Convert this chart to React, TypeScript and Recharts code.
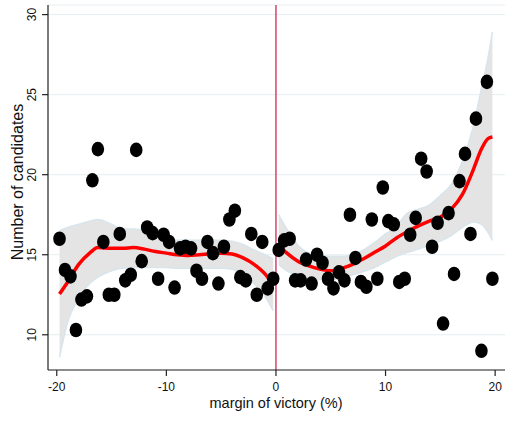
import React from 'react'
import { ComposedChart, Scatter, Line, Area, XAxis, YAxis, CartesianGrid, ReferenceLine } from 'recharts'

// binned counts, left and right of the cutoff
const leftBinX = [
  -19.75, -19.25, -18.75, -18.25, -17.75, -17.25, -16.75, -16.25, -15.75, -15.25,
  -14.75, -14.25, -13.75, -13.25, -12.75, -12.25, -11.75, -11.25, -10.75, -10.25,
  -9.75, -9.25, -8.75, -8.25, -7.75, -7.25, -6.75, -6.25, -5.75, -5.25,
  -4.75, -4.25, -3.75, -3.25, -2.75, -2.25, -1.75, -1.25, -0.75, -0.25,
]
const leftCount = [
  16.0, 14.05, 13.65, 10.3, 12.2, 12.4, 19.65, 21.6, 15.8, 12.5,
  12.5, 16.3, 13.4, 13.75, 21.55, 14.6, 16.7, 16.35, 13.5, 16.25,
  15.8, 12.95, 15.4, 15.5, 15.4, 14.0, 13.5, 15.8, 15.1, 13.2,
  15.5, 17.2, 17.75, 13.6, 13.4, 16.3, 12.5, 15.8, 12.9, 13.5,
]
const rightBinX = [
  0.25, 0.75, 1.25, 1.75, 2.25, 2.75, 3.25, 3.75, 4.25, 4.75,
  5.25, 5.75, 6.25, 6.75, 7.25, 7.75, 8.25, 8.75, 9.25, 9.75,
  10.25, 10.75, 11.25, 11.75, 12.25, 12.75, 13.25, 13.75, 14.25, 14.75,
  15.25, 15.75, 16.25, 16.75, 17.25, 17.75, 18.25, 18.75, 19.25, 19.75,
]
const rightCount = [
  15.3, 15.9, 16.0, 13.4, 13.4, 14.7, 13.2, 15.0, 14.5, 13.5,
  12.9, 13.9, 13.4, 17.5, 14.8, 13.3, 13.0, 17.2, 13.5, 19.2,
  17.1, 16.9, 13.3, 13.5, 16.25, 17.3, 21.0, 20.2, 15.5, 17.0,
  10.7, 17.6, 13.8, 19.6, 21.3, 16.3, 23.5, 9.0, 25.8, 13.5,
]

// local polynomial fit and 95% CI
const leftFitX = [-19.75, -19, -18, -17, -16.25, -15, -14, -13, -12, -11, -10, -9, -8, -7, -6, -5, -4, -3, -2, -1, -0.25]
const leftFit = [12.55, 13.3, 14.4, 15.1, 15.45, 15.4, 15.4, 15.45, 15.35, 15.2, 15.1, 15.0, 14.95, 15.0, 15.05, 15.1, 15.05, 14.8, 14.4, 13.8, 13.1]
const leftHi = [16.5, 16.7, 16.9, 17.1, 17.2, 16.9, 16.6, 16.6, 16.5, 16.2, 16.0, 15.9, 15.9, 15.9, 15.9, 15.9, 15.85, 15.65, 15.3, 15.0, 14.75]
const leftLo = [8.6, 10.8, 12.3, 13.2, 13.6, 14.0, 14.15, 14.2, 14.2, 14.2, 14.2, 14.15, 14.15, 14.15, 14.15, 14.15, 14.1, 13.75, 13.2, 12.4, 11.5]

const rightFitX = [0.25, 1, 2, 3, 4, 5, 6, 7, 8, 9, 10, 11, 12, 13, 14, 15, 16, 17, 18, 18.75, 19.35, 19.75]
const rightFit = [15.6, 15.1, 14.6, 14.3, 14.1, 14.0, 14.15, 14.4, 14.75, 15.15, 15.55, 16.05, 16.45, 16.8, 17.1, 17.35, 17.85, 18.75, 20.3, 21.6, 22.25, 22.35]
const rightHi = [17.5, 16.6, 15.6, 15.1, 14.95, 14.9, 14.9, 15.0, 15.3, 15.75, 16.3, 16.8, 17.6, 17.85, 18.1, 18.7, 19.4, 20.8, 23.0, 25.4, 27.3, 28.9]
const rightLo = [14.4, 14.0, 13.7, 13.5, 13.45, 13.45, 13.55, 13.75, 13.95, 14.2, 14.55, 14.9, 15.15, 15.35, 15.6, 15.85, 16.2, 16.7, 17.05, 16.9, 16.4, 15.9]

const xTicks = [-20, -10, 0, 10, 20]
const yTicks = [10, 15, 20, 25, 30]

const FONT = '"Liberation Sans", Arial, sans-serif'

const leftPoints = leftBinX.map((x, i) => ({ x, y: leftCount[i] }))
const rightPoints = rightBinX.map((x, i) => ({ x, y: rightCount[i] }))
const leftCurve = leftFitX.map((x, i) => ({ x, fit: leftFit[i], lo: leftLo[i], hi: leftHi[i], band: [leftLo[i], leftHi[i]] }))
const rightCurve = rightFitX.map((x, i) => ({ x, fit: rightFit[i], lo: rightLo[i], hi: rightHi[i], band: [rightLo[i], rightHi[i]] }))

const Dot = (props: any) => {
  const { cx, cy } = props
  if (cx == null || cy == null) return null
  return <ellipse cx={cx} cy={cy} rx={6.3} ry={7.3} fill="#000" />
}

const YTick = (props: any) => {
  const { x, y, payload } = props
  const tx = x - 6
  return (
    <text x={tx} y={y} transform={`rotate(-90, ${tx}, ${y})`} textAnchor="middle" fontSize={12} fontFamily={FONT} fill="#111">
      {payload.value}
    </text>
  )
}

const YLabel = () => (
  <text x={23} y={182} transform="rotate(-90, 23, 182)" textAnchor="middle" fontSize={16} fontFamily={FONT} fill="#111">
    Number of candidates
  </text>
)

const XLabel = () => (
  <text x={276} y={408} textAnchor="middle" fontSize={14.5} fontFamily={FONT} fill="#111">
    margin of victory (%)
  </text>
)

const bandStroke = '#d8e5ec'

export default function App() {
  return (
    <div style={{ position: 'absolute', left: 0, top: 0, background: '#fff' }}>
      <ComposedChart width={505} height={421} margin={{ top: 5, right: 0, bottom: 0, left: 0 }}>
        <CartesianGrid vertical={false} stroke="#e6eef1" strokeWidth={1} />
        <XAxis
          type="number"
          dataKey="x"
          domain={[-20.8, 20.9]}
          ticks={xTicks}
          allowDataOverflow
          height={51}
          stroke="#222"
          strokeWidth={1.2}
          tickSize={6}
          tickMargin={6}
          tick={{ fontSize: 12, fontFamily: FONT, fill: '#111' }}
          label={<XLabel />}
        />
        <YAxis
          type="number"
          domain={[7.8, 30.6]}
          ticks={yTicks}
          allowDataOverflow
          width={48}
          stroke="#222"
          strokeWidth={1.2}
          tickSize={6}
          tickMargin={0}
          tick={<YTick />}
          label={<YLabel />}
        />
        <Area data={leftCurve} dataKey="band" type="monotone" stroke="none" fill="#e4e4e4" fillOpacity={1} isAnimationActive={false} />
        <Area data={rightCurve} dataKey="band" type="monotone" stroke="none" fill="#e4e4e4" fillOpacity={1} isAnimationActive={false} />
        <ReferenceLine x={0} stroke="#d4476b" strokeWidth={1.5} />
        <Scatter data={leftPoints} dataKey="y" shape={<Dot />} isAnimationActive={false} />
        <Scatter data={rightPoints} dataKey="y" shape={<Dot />} isAnimationActive={false} />
        <Line data={leftCurve} dataKey="hi" type="monotone" stroke={bandStroke} strokeWidth={1.5} dot={false} isAnimationActive={false} />
        <Line data={leftCurve} dataKey="lo" type="monotone" stroke={bandStroke} strokeWidth={1.5} dot={false} isAnimationActive={false} />
        <Line data={rightCurve} dataKey="hi" type="monotone" stroke={bandStroke} strokeWidth={1.5} dot={false} isAnimationActive={false} />
        <Line data={rightCurve} dataKey="lo" type="monotone" stroke={bandStroke} strokeWidth={1.5} dot={false} isAnimationActive={false} />
        <Line data={leftCurve} dataKey="fit" type="monotone" stroke="#ff0000" strokeWidth={3.5} dot={false} isAnimationActive={false} />
        <Line data={rightCurve} dataKey="fit" type="monotone" stroke="#ff0000" strokeWidth={3.5} dot={false} isAnimationActive={false} />
      </ComposedChart>
    </div>
  )
}
